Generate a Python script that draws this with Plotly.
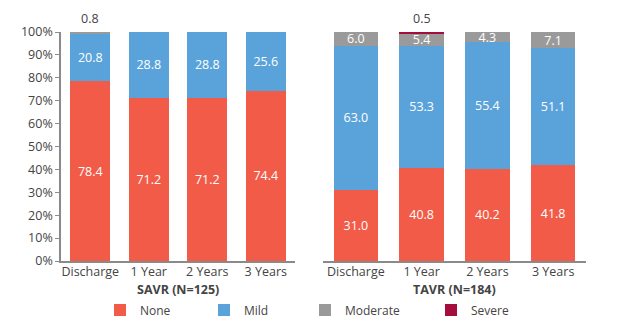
import plotly.graph_objects as go

categories = ["Discharge", "1 Year", "2 Years", "3 Years"]
savr_none = [78.4, 71.2, 71.2, 74.4]
savr_mild = [20.8, 28.8, 28.8, 25.6]
savr_moderate = [0.8, 0, 0, 0]
savr_severe = [0, 0, 0, 0]
tavr_none = [31.0, 40.8, 40.2, 41.8]
tavr_mild = [63.0, 53.3, 55.4, 51.1]
tavr_moderate = [6.0, 5.4, 4.3, 7.1]
tavr_severe = [0, 0.5, 0, 0]
series_names = ["None", "Mild", "Moderate", "Severe"]
colors = ["#F15B47", "#5AA3DA", "#9A9A9A", "#A50E3C"]
panel_titles = ["SAVR (N=125)", "TAVR (N=184)"]
yticks = list(range(0, 101, 10))

FONT = "Open Sans"
H = 332.0
W = 618.0

fig = go.Figure()
panels = [
    (savr_none, savr_mild, savr_moderate, savr_severe),
    (tavr_none, tavr_mild, tavr_moderate, tavr_severe),
]
legends = ["legend", "legend2", "legend3", "legend4"]

for p, data in enumerate(panels):
    xa = "x" if p == 0 else "x2"
    ya = "y" if p == 0 else "y2"
    for s, vals in enumerate(data):
        texts = [f"{v:.1f}" if v >= 2 else "" for v in vals]
        fig.add_trace(go.Bar(
            x=categories, y=vals, name=series_names[s],
            marker=dict(color=colors[s], line=dict(width=0)),
            text=texts, textposition="inside", insidetextanchor="middle",
            constraintext="none",
            textfont=dict(color="white", size=12.5, family=FONT),
            xaxis=xa, yaxis=ya,
            showlegend=(p == 1), legend=legends[s],
            hoverinfo="skip",
        ))
        # small values shown above the bar
        for c, v in zip(categories, vals):
            if 0 < v < 2:
                total = sum(d[categories.index(c)] for d in data)
                fig.add_annotation(
                    x=c, y=total, xref=xa, yref=ya, text=f"{v:.1f}",
                    showarrow=False, yanchor="bottom", yshift=3,
                    font=dict(size=12.5, color="#444", family=FONT),
                )
    fig.add_annotation(
        x=0.5, xref=("x domain" if p == 0 else "x2 domain"),
        y=1 - 289 / H, yref="paper", yanchor="middle",
        text="<b>" + panel_titles[p] + "</b>", showarrow=False,
        font=dict(size=12.5, color="#444", family=FONT),
    )

ydom = [1 - 261 / H, 1 - 32 / H]
axis_common = dict(showgrid=False, zeroline=False, showline=True,
                   linecolor="#8a8a8a", linewidth=1.5, automargin=False)

fig.update_layout(
    width=618, height=332,
    margin=dict(l=0, r=0, t=0, b=0, autoexpand=False),
    paper_bgcolor="white", plot_bgcolor="white",
    barmode="stack", bargap=0.32,
    font=dict(family=FONT, size=12.5, color="#444"),
    xaxis=dict(domain=[61 / W, 295 / W], ticks="", anchor="y",
               tickfont=dict(size=12.5, color="#444", family=FONT),
               ticklabelstandoff=-2, **axis_common),
    xaxis2=dict(domain=[323 / W, 586 / W], ticks="", anchor="y2",
                tickfont=dict(size=12.5, color="#444", family=FONT),
                ticklabelstandoff=-2, **axis_common),
    yaxis=dict(domain=ydom, range=[0, 100], tickvals=yticks,
               ticktext=[f"{t}%" for t in yticks], ticks="outside",
               ticklen=4, tickcolor="#8a8a8a", anchor="x",
               tickfont=dict(size=12.5, color="#444", family=FONT),
               **axis_common),
    yaxis2=dict(domain=ydom, range=[0, 100], visible=False, anchor="x2"),
)

leg_x = [100, 204, 305, 431]
for i, lg in enumerate(legends):
    fig.update_layout({lg: dict(
        x=leg_x[i] / W, y=1 - 310 / H, xanchor="left", yanchor="middle",
        xref="container", yref="container",
        orientation="h", bgcolor="rgba(0,0,0,0)",
        font=dict(size=12, color="#444", family=FONT),
    )})

fig.write_html("out.html")
